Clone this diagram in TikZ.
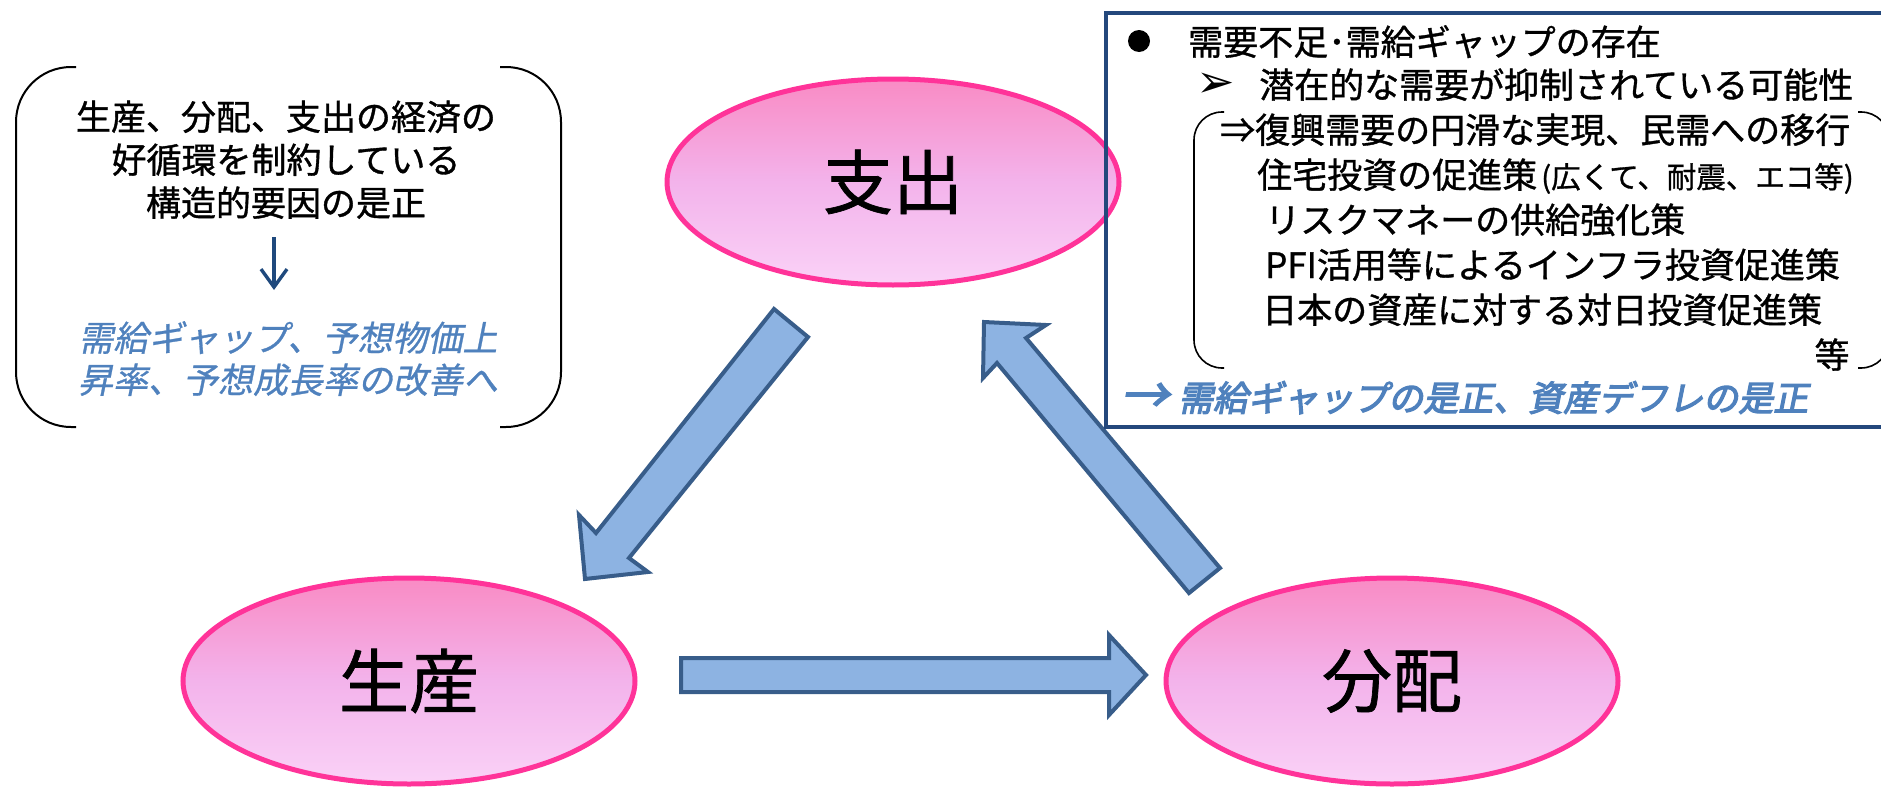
\documentclass[tikz,border=0pt]{standalone}
\usepackage{fontspec}
\setmainfont{Noto Sans CJK JP}[FakeBold=1.0]
\newfontfamily\jpit[FakeSlant=0.2,FakeBold=0.8]{Noto Sans CJK JP}
\newfontfamily\jpbi[FakeSlant=0.2,FakeBold=3.5]{Noto Sans CJK JP}
\newfontfamily\dejavu{DejaVu Sans}
\usetikzlibrary{shapes.geometric,arrows.meta}
\definecolor{pinkline}{HTML}{FF3399}
\definecolor{pinktop}{HTML}{F98BC4}
\definecolor{pinkmid}{HTML}{F3B3EB}
\definecolor{pinkbot}{HTML}{FAD2F7}
\definecolor{arrfill}{HTML}{8DB3E2}
\definecolor{arrline}{HTML}{385D8A}
\definecolor{boxline}{HTML}{24487C}
\definecolor{bluetext}{HTML}{4F81BD}
\definecolor{darkblue}{HTML}{1F497D}
\begin{document}
\begin{tikzpicture}[x=1pt,y=-1pt,
  stage/.style={ellipse, draw=pinkline, line width=5pt, top color=pinktop, bottom color=pinkbot, middle color=pinkmid, minimum width=452pt, minimum height=206pt, inner sep=0pt, font=\fontsize{70}{80}\selectfont},
  blockarrow/.style={draw=arrline, fill=arrfill, line width=4pt, line join=miter},
  txt/.style={inner sep=0pt, anchor=base west, font=\fontsize{35}{42}\selectfont},
  ctxt/.style={inner sep=0pt, anchor=base, font=\fontsize{35}{42}\selectfont},
  bluei/.style={font=\jpit\fontsize{35}{42}\selectfont, text=bluetext},
  bluebi/.style={font=\jpbi\fontsize{35}{42}\selectfont, text=bluetext},
  bracketline/.style={draw=black, line width=2pt},
  thinbracket/.style={draw=black, line width=1.6pt},
]
\useasboundingbox (0,0) rectangle (1881,787);
% left bracketed box
\draw[bracketline, rounded corners=55pt] (76,67) -- (16,67) -- (16,427) -- (76,427);
\draw[bracketline, rounded corners=55pt] (500,67) -- (561,67) -- (561,427) -- (500,427);
\node[ctxt] (l1) at (286,130) {生産、分配、支出の経済の};
\node[ctxt] (l2) at (286,173) {好循環を制約している};
\node[ctxt] (l3) at (286,216) {構造的要因の是正};
\coordinate (dtop) at (274,237);
\coordinate (dbot) at (274,290);
\draw[darkblue, line width=3.4pt, -{Straight Barb[length=18pt,width=26pt]}] (dtop) -- (dbot);
\node[ctxt, bluei] (l4) at (288,351) {需給ギャップ、予想物価上};
\node[ctxt, bluei] (l5) at (288,393) {昇率、予想成長率の改善へ};
% stages
\node[stage] (shishutsu) at (893,182) {支出};
\node[stage] (seisan) at (409,681) {生産};
\node[stage] (bunpai) at (1392,681) {分配};
% block arrows
\draw[blockarrow] (774,309) -- (808,337) -- (629,558) -- (648,572) -- (585,579) -- (579,515) -- (596,533) -- cycle;
\draw[blockarrow] (1189,593) -- (1220,568) -- (1026,338) -- (1046,325) -- (984,322) -- (983,378) -- (997,363) -- cycle;
\draw[blockarrow] (681,658) -- (1109,658) -- (1109,635) -- (1146,675) -- (1109,715) -- (1109,692) -- (681,692) -- cycle;
% right box
\draw[boxline, line width=3.5pt] (1106,13) rectangle (1910,427);
\draw[thinbracket, rounded corners=28pt] (1224,112) -- (1194,112) -- (1194,368) -- (1224,368);
\draw[thinbracket, rounded corners=28pt] (1858,112) -- (1889,112) -- (1889,368) -- (1858,368);
\node[circle, fill=black, minimum size=22pt, inner sep=0pt] (bul) at (1139,41) {};
\node[inner sep=0pt, font=\dejavu\fontsize{46}{50}\selectfont] (arrowhead) at (1216,85) {➢};
\node[txt] (r1) at (1188,55) {需要不足･需給ギャップの存在};
\node[txt] (r2) at (1259,98) {潜在的な需要が抑制されている可能性};
\node[txt] (r3) at (1220,143) {⇒復興需要の円滑な実現、民需への移行};
\node[txt] (r4) at (1257,188) {住宅投資の促進策{\kern4pt\fontsize{29.5}{30}\selectfont (広くて、耐震、エコ等)}};
\node[txt] (r5) at (1265,233) {リスクマネーの供給強化策};
\node[txt] (r6) at (1265,278) {PFI活用等によるインフラ投資促進策};
\node[txt] (r7) at (1262,323) {日本の資産に対する対日投資促進策};
\node[ctxt] (r8) at (1832,368) {等};
\node[inner sep=0pt, font=\jpbi\fontsize{48}{50}\selectfont, text=bluetext] (r9) at (1145,398) {→};
\node[txt, bluebi] (r10) at (1178,411) {需給ギャップの是正、資産デフレの是正};
\end{tikzpicture}
\end{document}
